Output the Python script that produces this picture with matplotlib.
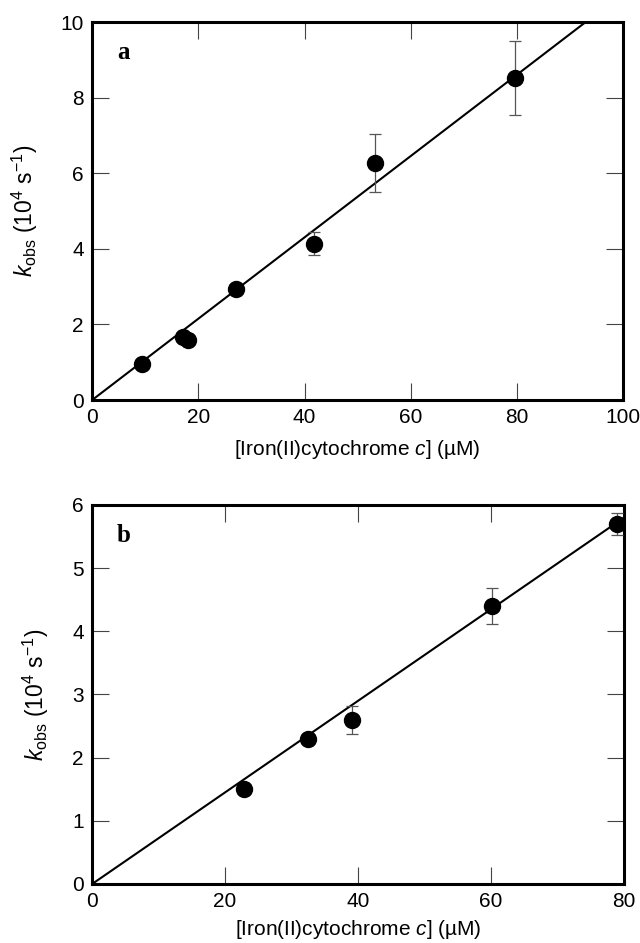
import matplotlib
matplotlib.use('Agg')
import matplotlib.pyplot as plt
import numpy as np

plt.rcParams['font.family'] = ['Liberation Sans', 'DejaVu Sans']
plt.rcParams['mathtext.fontset'] = 'custom'
plt.rcParams['mathtext.rm'] = 'Liberation Sans'
plt.rcParams['mathtext.it'] = 'Liberation Sans:italic'

# panel a: kobs vs [Fe(II)cyt c]
conc_a = [9.3, 17.2, 18.1, 27.1, 41.7, 53.2, 79.7]
kobs_a = [0.94, 1.66, 1.59, 2.94, 4.14, 6.27, 8.52]
err_a = [0.1, 0.1, 0.1, 0.1, 0.3, 0.77, 0.97]
slope_a = 0.1076

# panel b
conc_b = [22.8, 32.5, 39.05, 60.2, 78.9]
kobs_b = [1.50, 2.30, 2.60, 4.40, 5.70]
err_b = [0.08, 0.08, 0.22, 0.29, 0.17]
slope_b = 0.0725

xlab = r'[Iron(II)cytochrome $c$] (µM)'
ylab = r'$k_{\mathrm{obs}}$ (10$^4$ s$^{-1}$)'

fig = plt.figure(figsize=(6.4, 9.43), dpi=100)
ax1 = fig.add_axes([0.144, 0.5758, 0.8297, 0.4008])
ax2 = fig.add_axes([0.144, 0.0626, 0.831, 0.4019])


def panel(ax, x, y, e, k, xmax, ymax, xt, yt, letter, xpad):
    xx = np.array([0, xmax])
    ax.plot(xx, k * xx, color='black', lw=1.5, zorder=2)
    ax.errorbar(x, y, yerr=e, fmt='o', color='black', ms=11.5,
                ecolor='#555555', elinewidth=0.9, capsize=4.5, capthick=0.9, zorder=3)
    ax.set_xlim(0, xmax)
    ax.set_ylim(0, ymax)
    ax.set_xticks(xt)
    ax.set_yticks(yt)
    ax.tick_params(direction='in', length=12, width=0.8, color='#444444',
                   top=True, right=True, labelsize=15, pad=6)
    for s in ax.spines.values():
        s.set_linewidth(2.2)
    ax.set_xlabel(xlab, fontsize=15, labelpad=xpad)
    ax.set_ylabel(ylab, fontsize=16.5, labelpad=15)
    ax.text(0.047, 0.92, letter, transform=ax.transAxes, fontsize=18,
            fontweight='bold', family=['Liberation Serif'], va='center', ha='left')


panel(ax1, conc_a, kobs_a, err_a, slope_a, 100, 10, [0, 20, 40, 60, 80, 100], [0, 2, 4, 6, 8, 10], 'a', 8)
panel(ax2, conc_b, kobs_b, err_b, slope_b, 80, 6, [0, 20, 40, 60, 80], [0, 1, 2, 3, 4, 5, 6], 'b', 5)

fig.savefig('out.png', dpi=100)
